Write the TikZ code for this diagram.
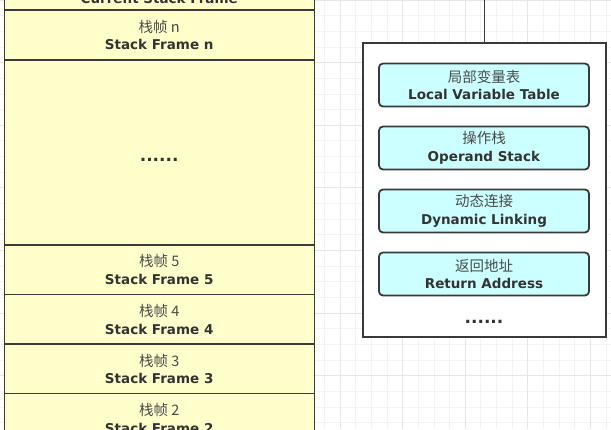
\documentclass[tikz,border=0pt]{standalone}
\usepackage{fontspec}
\setmainfont{DejaVu Sans}
\newfontfamily\cjk{Noto Sans CJK SC}
\usetikzlibrary{positioning}

\definecolor{frameyellow}{HTML}{FFFFCC}
\definecolor{slotcyan}{HTML}{CCFFFF}
\definecolor{edgegray}{HTML}{3A3A3A}
\definecolor{inkgray}{HTML}{333333}
\definecolor{cjkgray}{HTML}{4A4A4A}
\definecolor{gridmajor}{HTML}{E6E6E6}
\definecolor{gridminor}{HTML}{F3F3F3}

\tikzset{
  stackframe/.style={draw=edgegray, line width=1.4pt, fill=frameyellow, outer sep=0pt,
    minimum width=310pt, inner sep=0pt, align=center, text=inkgray,
    font=\fontsize{13.5}{17.5}\selectfont},
  framepart/.style={draw=edgegray, line width=1.8pt, fill=slotcyan, rounded corners=4pt,
    outer sep=0pt, minimum width=210pt, minimum height=43pt, inner sep=0pt,
    align=center, text=inkgray, font=\fontsize{13.5}{17.5}\selectfont},
  dotrow/.style={text=inkgray, inner sep=0pt, font=\fontsize{17}{18}\selectfont\bfseries},
  minorline/.style={draw=gridminor, line width=0.8pt},
  majorline/.style={draw=gridmajor, line width=0.8pt}
}

\newcommand{\twolines}[2]{{\cjk\fontsize{14.5}{17.5}\selectfont\color{cjkgray}#1}\\\textbf{#2}}

\begin{document}
\begin{tikzpicture}[x=1pt, y=-1pt]
        \useasboundingbox (0,0) rectangle (611,429);
        \clip (0,0) rectangle (611,429);

        % background grid
        \foreach \i in {0,...,38}
          \draw[minorline] ({11.35+15.65*\i},0) -- ++(0,429);
        \foreach \i in {0,...,27}
          \draw[minorline] (0,{15.65*\i}) -- ++(611,0);
        \foreach \i in {0,...,9}
          \draw[majorline] ({27+62.6*\i},0) -- ++(0,429);
        \foreach \i in {0,...,6}
          \draw[majorline] (0,{62.6*\i}) -- ++(611,0);

        % Java virtual machine stack
        \node[stackframe, minimum height=50pt] (framen) at (159.2,35) {\twolines{栈帧 n}{Stack Frame n}};
        \node[stackframe, minimum height=43pt, above=0pt of framen] (current) {\twolines{当前栈帧}{Current Stack Frame}};
        \node[stackframe, minimum height=185pt, below=0pt of framen] (gap) {};
        \node[dotrow] (gapdots) at (159.2,160) {......};
        \node[stackframe, minimum height=49.5pt, below=0pt of gap] (frame5) {\twolines{栈帧 5}{Stack Frame 5}};
        \node[stackframe, minimum height=49.5pt, below=0pt of frame5] (frame4) {\twolines{栈帧 4}{Stack Frame 4}};
        \node[stackframe, minimum height=49.5pt, below=0pt of frame4] (frame3) {\twolines{栈帧 3}{Stack Frame 3}};
        \node[stackframe, minimum height=49.5pt, below=0pt of frame3] (frame2) {\twolines{栈帧 2}{Stack Frame 2}};

        % inside of one stack frame
        \node[draw=edgegray, line width=1.8pt, fill=white, outer sep=0pt,
              minimum width=243pt, minimum height=294pt] (detail) at (484.5,190) {};
        \node[framepart] (locals) at (484,85) {\twolines{局部变量表}{Local Variable Table}};
        \node[framepart, below=20pt of locals] (operands) {\twolines{操作栈}{Operand Stack}};
        \node[framepart, below=20pt of operands] (linking) {\twolines{动态连接}{Dynamic Linking}};
        \node[framepart, below=20pt of linking] (retaddr) {\twolines{返回地址}{Return Address}};
        \node[dotrow] (more) at (484,322) {......};

        \coordinate (top) at (484.5,-5);
        \draw[edgegray, line width=1.8pt] (detail.north) -- (top);
    \end{tikzpicture}
\end{document}
